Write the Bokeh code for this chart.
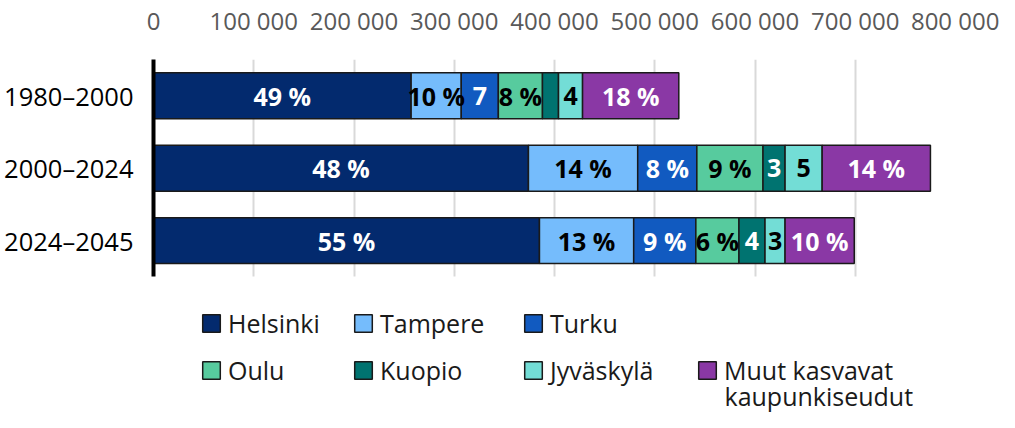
from bokeh.plotting import figure
from bokeh.models import (ColumnDataSource, FixedTicker, Legend, LegendItem, Range1d, Label)
from bokeh.embed import file_html
from bokeh.resources import INLINE
from bokeh.core.properties import value

# ---------------- data ----------------
categories = ["1980–2000", "2000–2024", "2024–2045"]

series_keys = ["helsinki", "tampere", "turku", "oulu", "kuopio", "jyvaskyla", "muut"]
series_names = ["Helsinki", "Tampere", "Turku", "Oulu", "Kuopio", "Jyväskylä",
                "Muut kasvavat"]
muut_name_line2 = "kaupunkiseudut"

helsinki = [257000, 374000, 385000]
tampere = [50000, 109000, 94000]
turku = [37000, 59000, 62000]
oulu = [44000, 66000, 43000]
kuopio = [16000, 22000, 26000]
jyvaskyla = [24000, 37000, 20000]
muut = [96000, 108000, 69000]

helsinki_labels = ["49 %", "48 %", "55 %"]
tampere_labels = ["10 %", "14 %", "13 %"]
turku_labels = ["7", "8 %", "9 %"]
oulu_labels = ["8 %", "9 %", "6 %"]
kuopio_labels = ["", "3", "4"]
jyvaskyla_labels = ["4", "5", "3"]
muut_labels = ["18 %", "14 %", "10 %"]

ticks = [0, 100000, 200000, 300000, 400000, 500000, 600000, 700000, 800000]
tick_labels = ["0", "100 000", "200 000", "300 000", "400 000", "500 000",
               "600 000", "700 000", "800 000"]

colors = ["#032a6e", "#75bcfc", "#115ac0", "#57cb9e", "#007370", "#73ddd6", "#8a38a5"]
label_colors = ["white", "black", "white", "black", "white", "black", "white"]

values = [helsinki, tampere, turku, oulu, kuopio, jyvaskyla, muut]
labels = [helsinki_labels, tampere_labels, turku_labels, oulu_labels,
          kuopio_labels, jyvaskyla_labels, muut_labels]

FONT = "Open Sans"

# ---------------- layout geometry ----------------
W, H = 999, 412
TOP, LEFT, RIGHT = 58, 153, 44
band_px = 218 / 3.0
n = len(categories)
frame_h = H - TOP
y_top = n + 0.5
y_bottom = y_top - frame_h / band_px
ypos = [n - i for i in range(n)]  # first category on top

p = figure(width=W, height=H, output_backend="svg", toolbar_location=None,
           x_range=Range1d(0, 800000), y_range=Range1d(y_bottom, y_top),
           x_axis_location="above",
           min_border_left=LEFT, min_border_right=RIGHT, min_border_top=TOP,
           min_border_bottom=0)
p.outline_line_color = None
p.background_fill_color = None
p.border_fill_color = "white"

data = {"y": ypos}
for k, v in zip(series_keys, values):
    data[k] = v
source = ColumnDataSource(data)

renderers = p.hbar_stack(series_keys, y="y", height=0.633, source=source,
                         color=colors, line_color="#1a1a1a", line_width=1.5)

cum = [0] * n
for v, lab, tc in zip(values, labels, label_colors):
    mids = [c + x / 2 for c, x in zip(cum, v)]
    cum = [c + x for c, x in zip(cum, v)]
    src = ColumnDataSource(dict(x=mids, y=ypos, text=lab))
    p.text(x="x", y="y", text="text", source=src, text_color=tc,
           text_font=value(FONT), text_font_style="bold", text_font_size="25px",
           text_align="center", text_baseline="middle")

xa = p.xaxis[0]
xa.ticker = FixedTicker(ticks=ticks)
xa.major_label_overrides = {t: l for t, l in zip(ticks, tick_labels)}
xa.axis_line_color = None
xa.major_tick_line_color = None
xa.minor_tick_line_color = None
xa.major_label_text_font = FONT
xa.major_label_text_font_size = "24px"
xa.major_label_text_color = "#595959"
xa.major_label_standoff = 17

ya = p.yaxis[0]
ya.ticker = FixedTicker(ticks=ypos)
ya.major_label_overrides = {y: c for y, c in zip(ypos, categories)}
ya.bounds = (0.5, y_top)
ya.axis_line_color = "black"
ya.axis_line_width = 4
ya.major_tick_line_color = None
ya.minor_tick_line_color = None
ya.major_label_text_font = FONT
ya.major_label_text_font_size = "25.5px"
ya.major_label_text_color = "black"
ya.major_label_standoff = 14

p.xgrid.grid_line_color = "#d9d9d9"
p.xgrid.grid_line_width = 2
p.xgrid.cross_bounds = (0.5, y_top)
p.ygrid.grid_line_color = None

# ---------------- legend (inside the lower part of the frame) ----------------
positions = [(47, 72), (199, 72), (369, 72),
             (47, 25), (199, 25), (369, 25), (543, 25)]
for r, name, pos in zip(renderers, series_names, positions):
    leg = Legend(items=[LegendItem(label=name, renderers=[r])], location=pos,
                 orientation="horizontal", padding=0, margin=0, spacing=0,
                 border_line_color=None, background_fill_alpha=0,
                 label_text_font=FONT, label_text_font_size="25px",
                 label_text_color="#1a1a1a",
                 glyph_width=22, glyph_height=22, label_standoff=6)
    p.add_layout(leg, "center")

p.add_layout(Label(x=571, y=17, x_units="screen", y_units="screen",
                   text=muut_name_line2, text_font=FONT, text_font_size="25px",
                   text_color="#1a1a1a", text_align="left", text_baseline="middle"))

open("out.html", "w").write(file_html(p, INLINE))
